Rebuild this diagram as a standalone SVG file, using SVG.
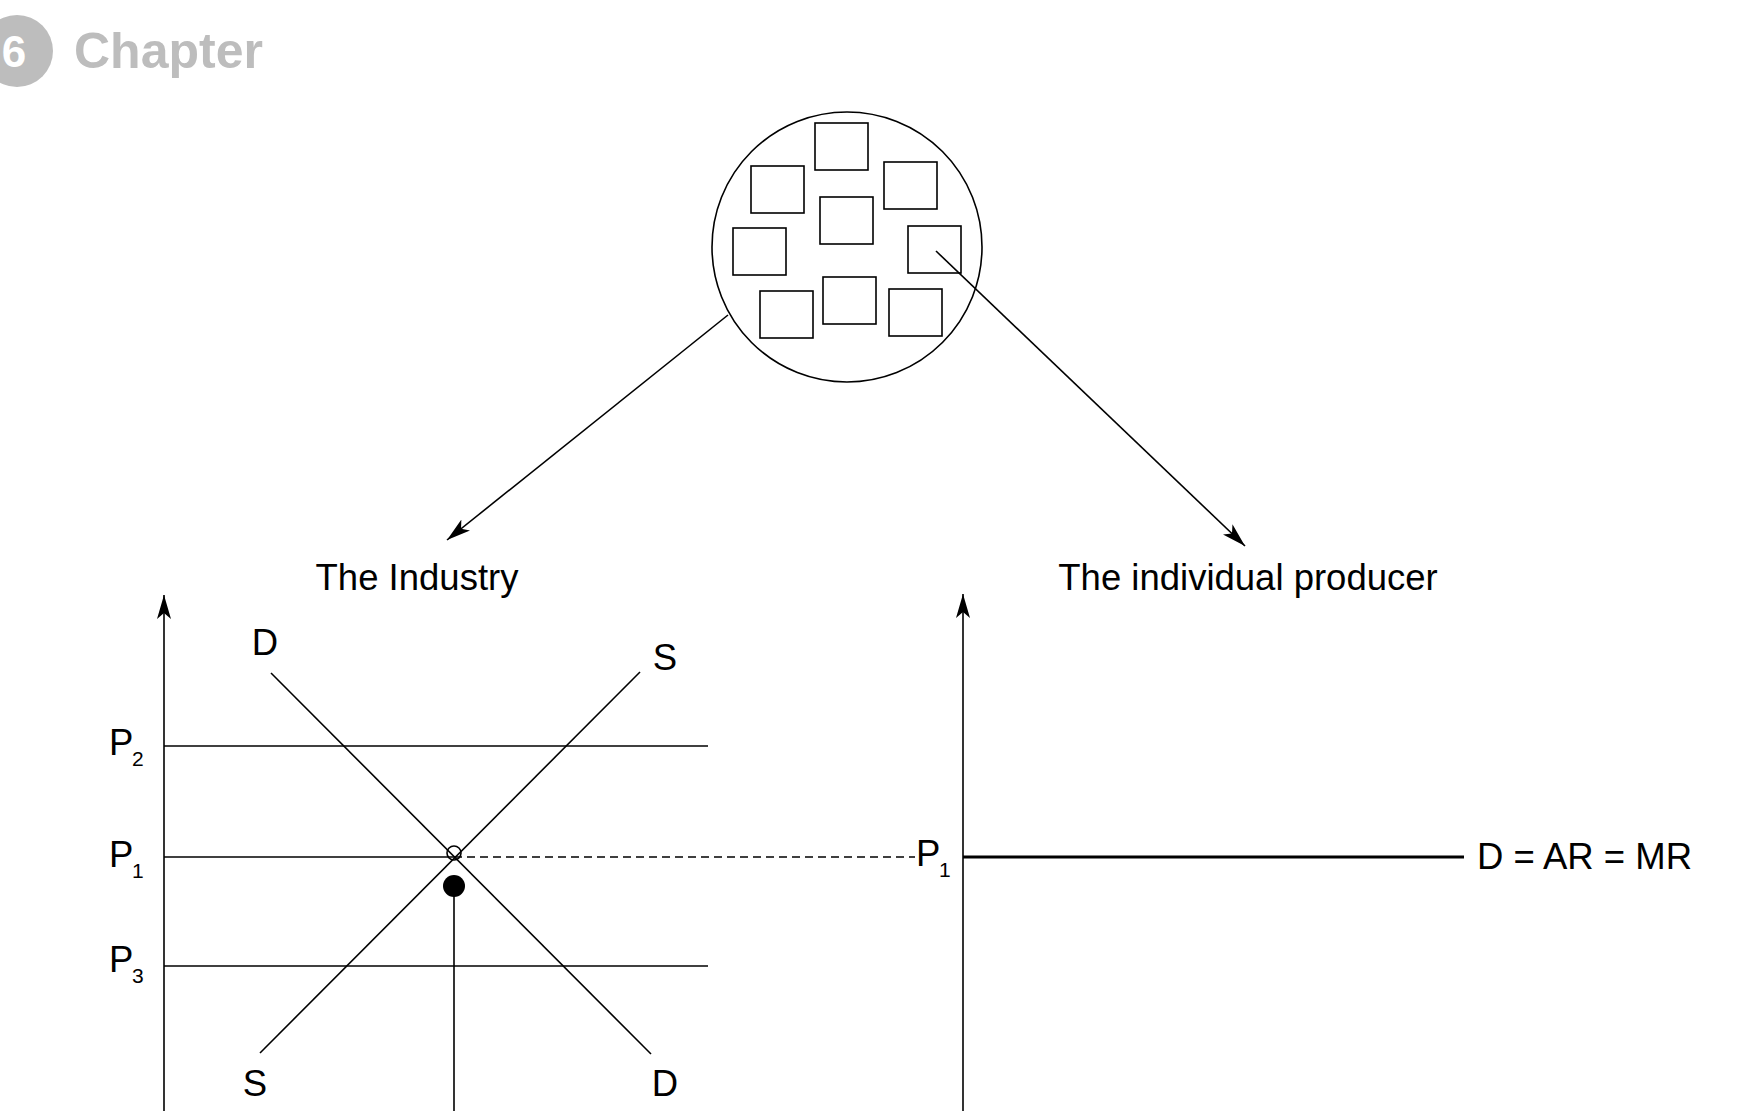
<svg xmlns="http://www.w3.org/2000/svg" width="1754" height="1111" viewBox="0 0 1754 1111">
<style>
.l{stroke:#000;stroke-width:1.6;fill:none}
.t{font-family:"Liberation Sans",Arial,sans-serif;font-size:36.5px;fill:#000}
.s{font-family:"Liberation Sans",Arial,sans-serif;font-size:21px;fill:#000}
.b{fill:none;stroke:#000;stroke-width:1.6}
</style>
<defs>
<marker id="ah" viewBox="0 0 24 14" refX="24" refY="7" markerWidth="24" markerHeight="14" markerUnits="userSpaceOnUse" orient="auto">
<path d="M0,0 L24,7 L0,14 L6,7 Z" fill="#000"/>
</marker>
</defs>
<rect width="1754" height="1111" fill="#fff"/>
<g id="header">
<circle cx="17" cy="51" r="36" fill="#bdbdbd"/>
<text x="14" y="67" font-family="Liberation Sans,Arial,sans-serif" font-size="44" font-weight="bold" fill="#fff" text-anchor="middle">6</text>
<text x="74" y="68" font-family="Liberation Sans,Arial,sans-serif" font-size="50" font-weight="bold" fill="#bdbdbd">Chapter</text>
</g>
<g id="market">
<ellipse cx="847" cy="247" rx="135" ry="135" class="b"/>
<rect x="815" y="123" width="53" height="47" class="b"/>
<rect x="751" y="166" width="53" height="47" class="b"/>
<rect x="884" y="162" width="53" height="47" class="b"/>
<rect x="820" y="197" width="53" height="47" class="b"/>
<rect x="733" y="228" width="53" height="47" class="b"/>
<rect x="908" y="226" width="53" height="47" class="b"/>
<rect x="760" y="291" width="53" height="47" class="b"/>
<rect x="823" y="277" width="53" height="47" class="b"/>
<rect x="889" y="289" width="53" height="47" class="b"/>
</g>
<g id="connectors">
<line x1="728" y1="315" x2="447" y2="540" class="l" marker-end="url(#ah)"/>
<line x1="936" y1="251" x2="1245" y2="546" class="l" marker-end="url(#ah)"/>
</g>
<g id="industry">
<text x="417" y="590" class="t" text-anchor="middle">The Industry</text>
<line x1="164" y1="1111" x2="164" y2="595" class="l" marker-end="url(#ah)"/>
<line x1="164" y1="746" x2="708" y2="746" class="l"/>
<line x1="164" y1="857" x2="454" y2="857" class="l"/>
<line x1="164" y1="966" x2="708" y2="966" class="l"/>
<line x1="271" y1="673" x2="651" y2="1054" class="l"/>
<line x1="640" y1="672" x2="260" y2="1053" class="l"/>
<line x1="454" y1="857" x2="915" y2="857" stroke="#000" stroke-width="1.6" stroke-dasharray="8,5"/>
<circle cx="454" cy="853" r="7" class="b"/>
<circle cx="454" cy="886" r="11" fill="#000"/>
<line x1="454" y1="886" x2="454" y2="1111" class="l"/>
<text x="265" y="655" class="t" text-anchor="middle">D</text>
<text x="665" y="670" class="t" text-anchor="middle">S</text>
<text x="255" y="1096" class="t" text-anchor="middle">S</text>
<text x="665" y="1096" class="t" text-anchor="middle">D</text>
<text x="109" y="755" class="t">P</text><text x="132" y="766" class="s">2</text>
<text x="109" y="867" class="t">P</text><text x="132" y="878" class="s">1</text>
<text x="109" y="972" class="t">P</text><text x="132" y="983" class="s">3</text>
</g>
<g id="producer">
<text x="1248" y="590" class="t" text-anchor="middle">The individual producer</text>
<line x1="963" y1="1111" x2="963" y2="594" class="l" marker-end="url(#ah)"/>
<line x1="963" y1="857" x2="1464" y2="857" stroke="#000" stroke-width="3.2"/>
<text x="916" y="866" class="t">P</text><text x="939" y="877" class="s">1</text>
<text x="1477" y="869" class="t">D = AR = MR</text>
</g>
</svg>
